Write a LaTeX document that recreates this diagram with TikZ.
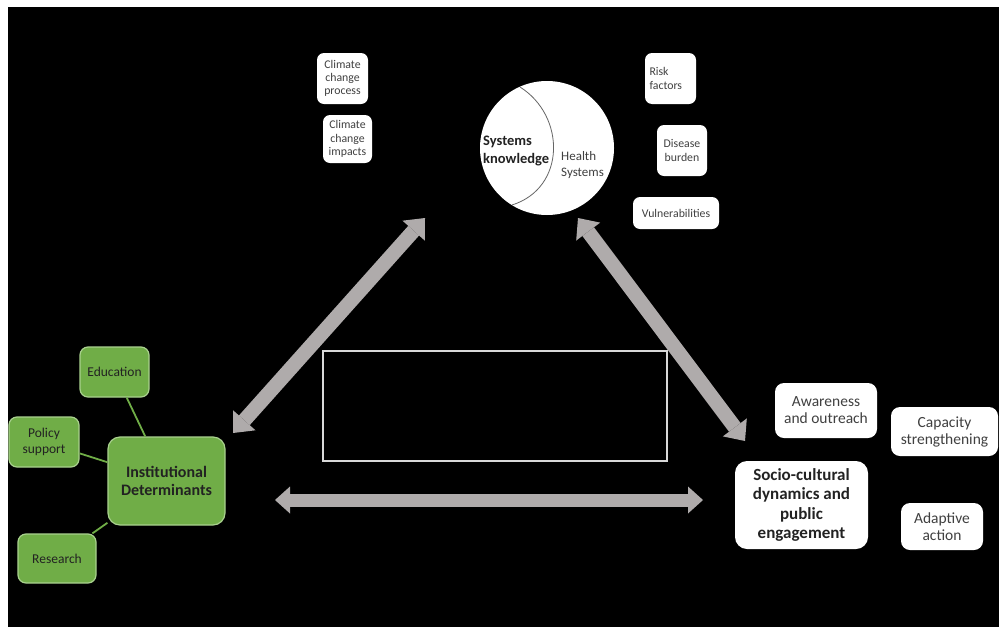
\documentclass[tikz,border=0pt]{standalone}
\usepackage{fontspec}
\setmainfont{Carlito}
\usetikzlibrary{arrows.meta}
\definecolor{gfill}{HTML}{70AD47}
\definecolor{gedge}{HTML}{A9D18E}
\definecolor{arrowgray}{HTML}{AFABAB}
\definecolor{txtgray}{HTML}{404040}
\definecolor{txtdark}{HTML}{222222}
\definecolor{rectedge}{HTML}{D9D9D9}
\tikzset{
  wbox/.style={fill=white, rounded corners=7pt, text=txtgray, align=center, inner sep=0pt},
  smallfont/.style={font=\fontsize{11.8}{13.2}\selectfont},
  medfont/.style={font=\fontsize{15.5}{17}\selectfont},
  gbox/.style={fill=gfill, draw=gedge, line width=1.2pt, rounded corners=8pt, text=txtdark, align=center, inner sep=0pt, font=\fontsize{13.5}{16}\selectfont},
  glink/.style={draw=gfill, line width=1.8pt},
  bigarrow/.style={draw=arrowgray, line width=13pt,
    {Triangle[length=15pt,width=27pt,line width=0pt]}-{Triangle[length=15pt,width=27pt,line width=0pt]}},
  diagarrow/.style={draw=arrowgray, line width=14.5pt,
    {Triangle[length=17pt,width=30pt,line width=0pt]}-{Triangle[length=17pt,width=30pt,line width=0pt]}},
}
\begin{document}
\begin{tikzpicture}[x=1pt,y=-1pt]
\useasboundingbox (0,0) rectangle (999,627);
\fill[white] (0,0) rectangle (999,627);
\fill[black] (8,7) rectangle (999,627);

% arrow end points
\coordinate (a1) at (233,433);
\coordinate (a2) at (425,218);
\coordinate (b1) at (578,218);
\coordinate (b2) at (745,441);
\coordinate (c1) at (275,500);
\coordinate (c2) at (703,500);
\draw[diagarrow] (a1) -- (a2);
\draw[diagarrow] (b1) -- (b2);
\draw[bigarrow] (c1) -- (c2);

% central empty rectangle
\node[draw=rectedge, line width=1.5pt, minimum width=344pt, minimum height=110pt, inner sep=0pt] (mid) at (495,406) {};

% top: circle
\node[circle, fill=white, minimum size=134pt, inner sep=0pt] (sk) at (547,148) {};
\draw[color=txtgray!80, line width=0.8pt] (520,87) .. controls (566,116) and (566,188) .. (512,205);
\node[anchor=west, align=left, text=txtdark, font=\bfseries\fontsize{14.5}{17.5}\selectfont, inner sep=0pt] (skt) at (483,151) {Systems\\knowledge};
\node[anchor=west, align=left, text=txtgray, font=\fontsize{13}{16}\selectfont, inner sep=0pt] (hs) at (561,165) {Health\\Systems};

% small white boxes
\node[wbox, smallfont, minimum width=51pt, minimum height=51pt] (ccp) at (342.5,78.5) {Climate\\change\\process};
\node[wbox, smallfont, minimum width=49pt, minimum height=48pt] (cci) at (347.5,139) {Climate\\change\\impacts};
\node[wbox, smallfont, minimum width=51pt, minimum height=51pt, text width=42pt, align=left] (risk) at (670.5,78.5) {Risk\\factors};
\node[wbox, smallfont, minimum width=50pt, minimum height=51pt] (dis) at (682,150.5) {Disease\\burden};
\node[wbox, smallfont, minimum width=86pt, minimum height=32pt] (vul) at (676,213) {Vulnerabilities};

% green cluster
\node[gbox, minimum width=69pt, minimum height=50pt] (edu) at (114.5,372) {Education};
\node[gbox, minimum width=70pt, minimum height=50pt] (pol) at (44,442) {Policy\\support};
\node[gbox, minimum width=78pt, minimum height=49pt] (res) at (57,558.5) {Research};
\node[gbox, minimum width=117pt, minimum height=88pt, rounded corners=12pt, font=\bfseries\fontsize{16}{18}\selectfont] (inst) at (166.5,481) {Institutional\\Determinants};
\draw[glink] (edu) -- (inst);
\draw[glink] (pol) -- (inst);
\draw[glink] (res) -- (inst);

% right cluster
\node[wbox, medfont, minimum width=102pt, minimum height=55pt, rounded corners=9pt] (aw) at (826,410.5) {Awareness\\and outreach};
\node[wbox, medfont, minimum width=107pt, minimum height=49pt, rounded corners=9pt] (cap) at (944.5,431.5) {Capacity\\strengthening};
\node[wbox, minimum width=133pt, minimum height=88pt, rounded corners=12pt, text=txtdark, font=\bfseries\fontsize{17}{19.5}\selectfont] (soc) at (801.5,505) {Socio-cultural\\dynamics and\\public\\engagement};
\node[wbox, medfont, minimum width=82pt, minimum height=47pt, rounded corners=9pt] (ada) at (942,526.5) {Adaptive\\action};
\end{tikzpicture}
\end{document}
